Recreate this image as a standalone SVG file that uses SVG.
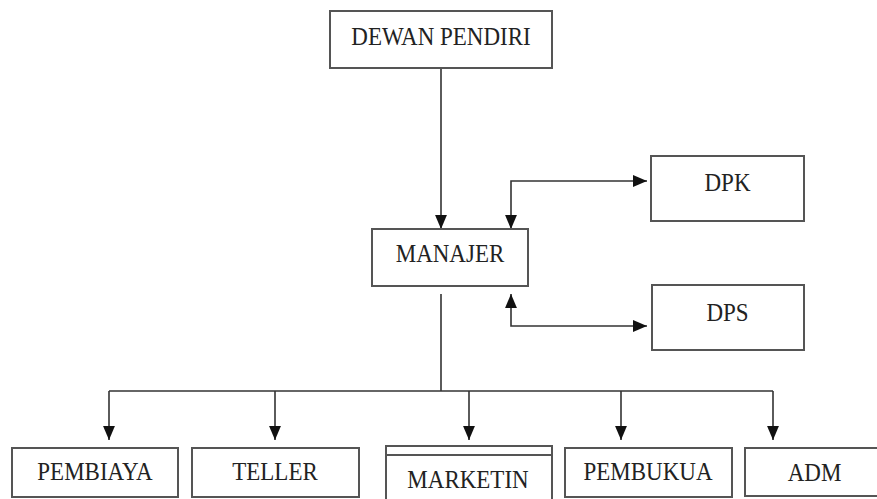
<svg xmlns="http://www.w3.org/2000/svg" width="877" height="499" viewBox="0 0 877 499">
  <style>
    .box { fill: #ffffff; stroke: #555555; stroke-width: 2; }
    .line { fill: none; stroke: #333333; stroke-width: 1.6; }
    .label { font-family: "Liberation Serif", "Times New Roman", serif; font-size: 23px; fill: #222222; text-anchor: middle; }
  </style>
  <defs>
    <marker id="arrow" markerUnits="userSpaceOnUse" markerWidth="14" markerHeight="12" viewBox="0 0 13 11" refX="13" refY="5.5" orient="auto-start-reverse">
      <path d="M0,0 L13,5.5 L0,11 z" fill="#111111"/>
    </marker>
  </defs>
  <rect width="877" height="499" fill="#ffffff"/>

  <g id="connectors">
    <line class="line" x1="441" y1="68" x2="441" y2="229" marker-end="url(#arrow)"/>
    <path class="line" d="M511,229 L511,181 L647,181" marker-start="url(#arrow)" marker-end="url(#arrow)"/>
    <path class="line" d="M511,294 L511,326 L647,326" marker-start="url(#arrow)" marker-end="url(#arrow)"/>
    <line class="line" x1="441" y1="294" x2="441" y2="391"/>
    <line class="line" x1="109" y1="391" x2="773" y2="391"/>
    <line class="line" x1="109" y1="391" x2="109" y2="440" marker-end="url(#arrow)"/>
    <line class="line" x1="275" y1="391" x2="275" y2="440" marker-end="url(#arrow)"/>
    <line class="line" x1="469" y1="391" x2="469" y2="440" marker-end="url(#arrow)"/>
    <line class="line" x1="621" y1="391" x2="621" y2="440" marker-end="url(#arrow)"/>
    <line class="line" x1="773" y1="391" x2="773" y2="440" marker-end="url(#arrow)"/>
  </g>

  <g id="dewan-pendiri">
    <rect class="box" x="330" y="11" width="222" height="57"/>
    <text class="label" transform="translate(441,45) scale(1,1.1)">DEWAN PENDIRI</text>
  </g>
  <g id="manajer">
    <rect class="box" x="372" y="229" width="156" height="57"/>
    <text class="label" transform="translate(450,262) scale(1,1.1)">MANAJER</text>
  </g>
  <g id="dpk">
    <rect class="box" x="651" y="156" width="153" height="65"/>
    <text class="label" transform="translate(727.5,191) scale(1,1.1)">DPK</text>
  </g>
  <g id="dps">
    <rect class="box" x="652" y="285" width="152" height="65"/>
    <text class="label" transform="translate(727.5,321) scale(1,1.1)">DPS</text>
  </g>
  <g id="pembiaya">
    <rect class="box" x="12" y="448" width="166" height="49"/>
    <text class="label" transform="translate(95,480) scale(1,1.1)">PEMBIAYA</text>
  </g>
  <g id="teller">
    <rect class="box" x="192" y="448" width="167" height="49"/>
    <text class="label" transform="translate(275,480) scale(1,1.1)">TELLER</text>
  </g>
  <g id="marketin">
    <rect class="box" x="386" y="446" width="166" height="60"/>
    <line class="box" x1="386" y1="455" x2="552" y2="455"/>
    <text class="label" transform="translate(468,488) scale(1,1.1)">MARKETIN</text>
  </g>
  <g id="pembukua">
    <rect class="box" x="565" y="448" width="167" height="49"/>
    <text class="label" transform="translate(648,480) scale(1,1.1)">PEMBUKUA</text>
  </g>
  <g id="adm">
    <rect class="box" x="745" y="448" width="139" height="48"/>
    <text class="label" transform="translate(814.5,480.5) scale(1,1.1)">ADM</text>
  </g>
</svg>
